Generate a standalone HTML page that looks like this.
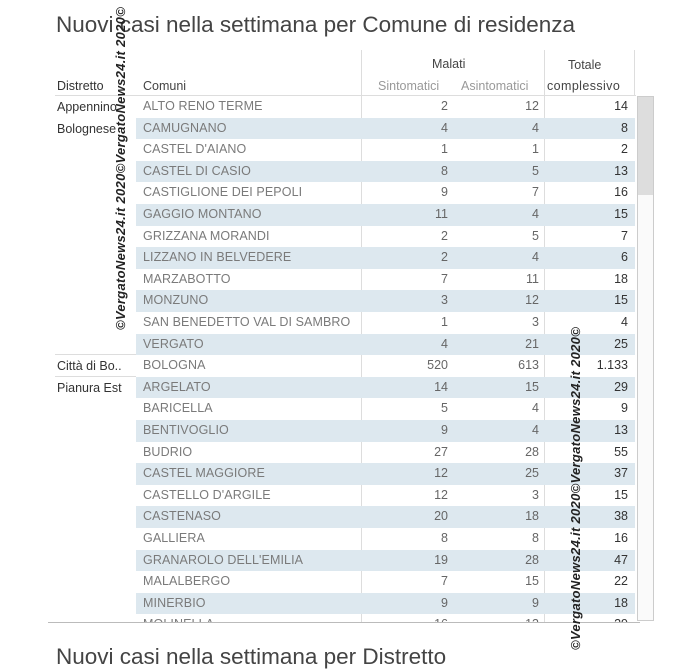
<!DOCTYPE html>
<html><head><meta charset="utf-8"><style>
body{margin:0;width:700px;height:650px;background:#fff;position:relative;overflow:hidden;font-family:"Liberation Sans",sans-serif}
.t{position:absolute;white-space:nowrap}
.title{left:56px;top:12px;font-size:22.5px;color:#444}
.h{font-size:12.5px;color:#444}
.hs{font-size:12.5px;color:#999}
.row{position:absolute;left:136px;width:499px;height:21.6px}
.row.b{background:#dde8ef}
.c{position:absolute;top:3px;font-size:12.5px;color:#7a7a7a;letter-spacing:0.1px}
.n{position:absolute;top:3px;font-size:12.5px;color:#666;text-align:right;width:60px}
.d{font-size:12.5px;color:#333}
.vl{position:absolute;width:1px;background:#ddd}
.hl{position:absolute;height:1px;background:#ddd}
.wm{position:absolute;transform-origin:0 0;transform:rotate(-90deg);font-weight:bold;font-style:italic;font-size:13px;color:#222;white-space:nowrap;letter-spacing:0.3px}
</style></head><body>
<div class="t title">Nuovi casi nella settimana per Comune di residenza</div>
<div class="t h" style="left:432px;top:57px">Malati</div>
<div class="t h" style="left:568px;top:58px">Totale</div>
<div class="t d" style="left:57px;top:79px">Distretto</div>
<div class="t h" style="left:143px;top:79px">Comuni</div>
<div class="t hs" style="left:378px;top:79px">Sintomatici</div>
<div class="t hs" style="left:461px;top:79px">Asintomatici</div>
<div class="t h" style="left:547px;top:79px;letter-spacing:0.4px">complessivo</div>
<div class="vl" style="left:361px;top:50px;height:572px"></div>
<div class="vl" style="left:544px;top:50px;height:572px"></div>
<div class="vl" style="left:634px;top:50px;height:46px"></div>
<div class="hl" style="left:55px;top:95px;width:581px"></div>
<div id="rows"></div>
<div class="t d" style="left:57px;top:100px">Appennino</div>
<div class="t d" style="left:57px;top:122px">Bolognese</div>
<div class="t d" style="left:57px;top:359px">Città di Bo..</div>
<div class="t d" style="left:57px;top:381px">Pianura Est</div>
<div class="hl" style="left:55px;top:354px;width:81px"></div>
<div class="hl" style="left:55px;top:376px;width:81px"></div>
<div style="position:absolute;left:637px;top:96px;width:17px;height:525px;border:1px solid #ccc;box-sizing:border-box;background:#fafafa"></div>
<div style="position:absolute;left:638px;top:97px;width:15px;height:98px;background:#ddd"></div>
<div class="hl" style="left:48px;top:622px;width:592px;background:#bbb"></div>
<div class="t" style="left:56px;top:644px;font-size:22.5px;color:#444">Nuovi casi nella settimana per Distretto</div>
<div class="wm" style="left:113px;top:330px">©VergatoNews24.it 2020©VergatoNews24.it 2020©</div>
<div class="wm" style="left:568px;top:650px">©VergatoNews24.it 2020©VergatoNews24.it 2020©</div>
<script>
var d=[["ALTO RENO TERME",2,12,14],["CAMUGNANO",4,4,8],["CASTEL D'AIANO",1,1,2],["CASTEL DI CASIO",8,5,13],["CASTIGLIONE DEI PEPOLI",9,7,16],["GAGGIO MONTANO",11,4,15],["GRIZZANA MORANDI",2,5,7],["LIZZANO IN BELVEDERE",2,4,6],["MARZABOTTO",7,11,18],["MONZUNO",3,12,15],["SAN BENEDETTO VAL DI SAMBRO",1,3,4],["VERGATO",4,21,25],["BOLOGNA",520,613,"1.133"],["ARGELATO",14,15,29],["BARICELLA",5,4,9],["BENTIVOGLIO",9,4,13],["BUDRIO",27,28,55],["CASTEL MAGGIORE",12,25,37],["CASTELLO D'ARGILE",12,3,15],["CASTENASO",20,18,38],["GALLIERA",8,8,16],["GRANAROLO DELL'EMILIA",19,28,47],["MALALBERGO",7,15,22],["MINERBIO",9,9,18],["MOLINELLA",16,13,29]];
var h="";
d.forEach(function(r,i){var top=96+i*21.6;if(top>622)return;var hh=Math.min(21.6,622-top);
h+='<div class="row'+(i%2?' b':'')+'" style="top:'+top+'px;height:'+hh+'px;overflow:hidden">'+
'<div class="c" style="left:7px">'+r[0]+'</div>'+
'<div class="n" style="left:252px">'+r[1]+'</div>'+
'<div class="n" style="left:343px">'+r[2]+'</div>'+
'<div class="n" style="left:432px;color:#333">'+r[3]+'</div></div>';});
document.getElementById("rows").innerHTML=h;
</script>
</body></html>
